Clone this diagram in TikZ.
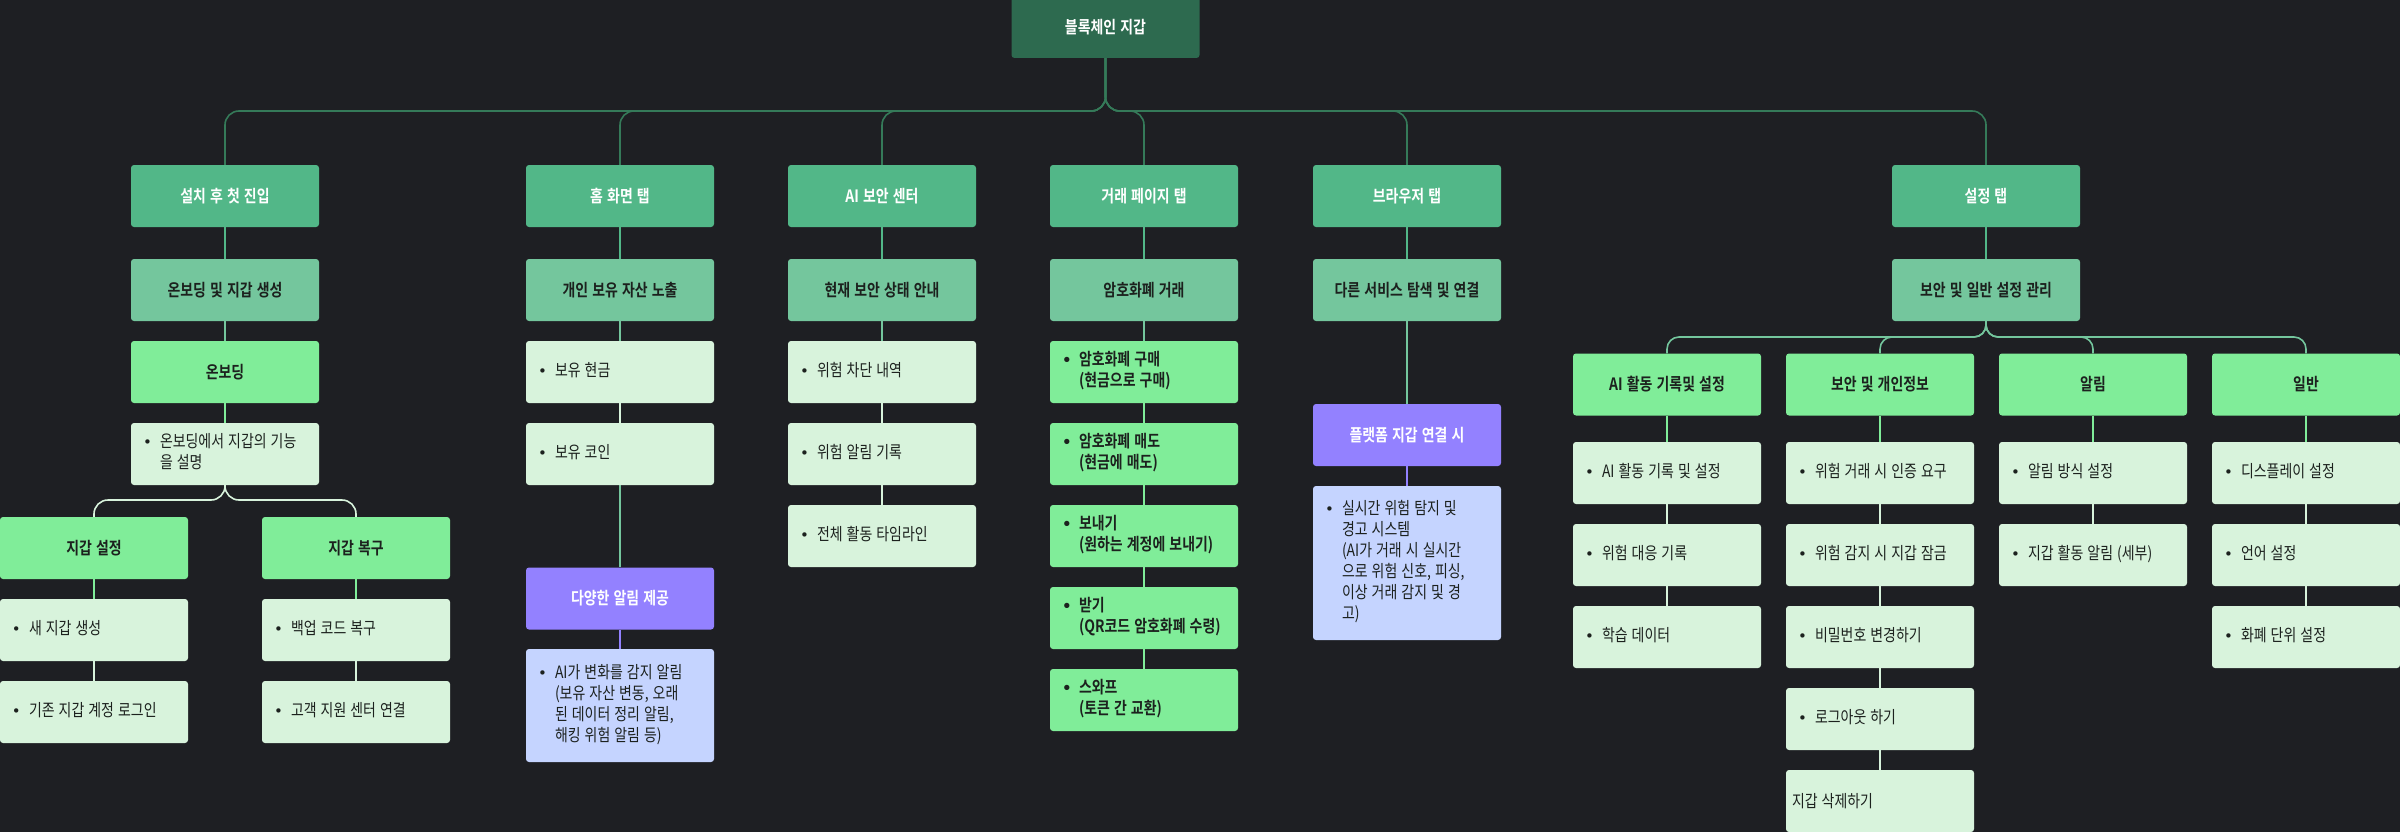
\documentclass[tikz,border=0pt]{standalone}
\usepackage{fontspec}
\setmainfont{Noto Sans CJK KR}[BoldFont={Noto Sans CJK KR Bold},WordSpace=1.3,FakeStretch=0.82]
\newfontfamily\bulletfont{DejaVu Sans}
\definecolor{cBg}{HTML}{1E1F23}
\definecolor{cRoot}{HTML}{2D6A4F}
\definecolor{cRootE}{HTML}{357A59}
\definecolor{cTab}{HTML}{52B788}
\definecolor{cLvl}{HTML}{74C69D}
\definecolor{cBrt}{HTML}{80ED99}
\definecolor{cLite}{HTML}{D8F3DC}
\definecolor{cPurp}{HTML}{9381FF}
\definecolor{cBlue}{HTML}{C5D4FF}
\definecolor{cTxt}{HTML}{1C211E}
\newcommand{\fsz}{\fontsize{17pt}{21pt}\selectfont}
\newcommand{\bl}[1]{\makebox[188pt][l]{\hspace{12pt}\makebox[17pt][l]{\bulletfont\fontsize{15pt}{21pt}\selectfont •}\begin{tabular}[t]{@{}l@{}}#1\end{tabular}}}
\newcommand{\nb}[1]{\makebox[188pt][l]{\hspace{6pt}#1}}
\pgfdeclarelayer{back}
\pgfdeclarelayer{edges}
\pgfsetlayers{back,edges,main}
\tikzset{
  box/.style={rectangle, rounded corners=3pt, minimum width=188pt, minimum height=62pt, inner sep=0pt, font=\fsz},
  rootbox/.style={box, fill=cRoot, text=white, font=\fsz\bfseries},
  tabbox/.style={box, fill=cTab, text=white, font=\fsz\bfseries},
  lvlbox/.style={box, fill=cLvl, text=cTxt, font=\fsz\bfseries},
  brtbox/.style={box, fill=cBrt, text=cTxt, font=\fsz\bfseries},
  litebox/.style={box, fill=cLite, text=cTxt},
  purpbox/.style={box, fill=cPurp, text=white, font=\fsz\bfseries},
  bluebox/.style={box, fill=cBlue, text=cTxt},
  edge/.style={line width=1.6pt},
}
\begin{document}
\begin{tikzpicture}[x=1pt,y=-1pt]
\useasboundingbox (0,0) rectangle (2400,832);
\begin{pgfonlayer}{back}
\fill[cBg] (0,0) rectangle (2400,832);
\end{pgfonlayer}

% root and tabs
\node[rootbox] (root) at (1105.5,27) {블록체인 지갑};
\node[tabbox] (t1) at (225,196) {설치 후 첫 진입};
\node[tabbox] (t2) at (620,196) {홈 화면 탭};
\node[tabbox] (t3) at (882,196) {AI 보안 센터};
\node[tabbox] (t4) at (1144,196) {거래 페이지 탭};
\node[tabbox] (t5) at (1407,196) {브라우저 탭};
\node[tabbox] (t6) at (1986,196) {설정 탭};

\node[lvlbox] (l1) at (225,290) {온보딩 및 지갑 생성};
\node[lvlbox] (l2) at (620,290) {개인 보유 자산 노출};
\node[lvlbox] (l3) at (882,290) {현재 보안 상태 안내};
\node[lvlbox] (l4) at (1144,290) {암호화폐 거래};
\node[lvlbox] (l5) at (1407,290) {다른 서비스 탐색 및 연결};
\node[lvlbox] (l6) at (1986,290) {보안 및 일반 설정 관리};

% column 1
\node[brtbox] (a1) at (225,372) {온보딩};
\node[litebox] (a2) at (225,454) {\bl{온보딩에서 지갑의 기능\\을 설명}};
\node[brtbox] (a3) at (94,548) {지갑 설정};
\node[brtbox] (a4) at (356,548) {지갑 복구};
\node[litebox] (a5) at (94,630) {\bl{새 지갑 생성}};
\node[litebox] (a6) at (94,712) {\bl{기존 지갑 계정 로그인}};
\node[litebox] (a7) at (356,630) {\bl{백업 코드 복구}};
\node[litebox] (a8) at (356,712) {\bl{고객 지원 센터 연결}};

% column 2
\node[litebox] (b1) at (620,372) {\bl{보유 현금}};
\node[litebox] (b2) at (620,454) {\bl{보유 코인}};
\node[purpbox] (b3) at (620,598.5) {다양한 알림 제공};
\node[bluebox, minimum height=113pt] (b4) at (620,705.5) {\bl{AI가 변화를 감지 알림\\(보유 자산 변동, 오래\\된 데이터 정리 알림,\\해킹 위험 알림 등)}};

% column 3
\node[litebox] (c1) at (882,372) {\bl{위험 차단 내역}};
\node[litebox] (c2) at (882,454) {\bl{위험 알림 기록}};
\node[litebox] (c3) at (882,536) {\bl{전체 활동 타임라인}};

% column 4
\node[brtbox] (d1) at (1144,372) {\bl{암호화폐 구매\\(현금으로 구매)}};
\node[brtbox] (d2) at (1144,454) {\bl{암호화폐 매도\\(현금에 매도)}};
\node[brtbox] (d3) at (1144,536) {\bl{보내기\\(원하는 계정에 보내기)}};
\node[brtbox] (d4) at (1144,618) {\bl{받기\\(QR코드 암호화폐 수령)}};
\node[brtbox] (d5) at (1144,700) {\bl{스와프\\(토큰 간 교환)}};

% column 5
\node[purpbox] (e1) at (1407,435) {플랫폼 지갑 연결 시};
\node[bluebox, minimum height=154pt] (e2) at (1407,563) {\bl{실시간 위험 탐지 및\\경고 시스템\\(AI가 거래 시 실시간\\으로 위험 신호, 피싱,\\이상 거래 감지 및 경\\고)}};

% column 6
\node[brtbox] (s1) at (1667,384.5) {AI 활동 기록및 설정};
\node[brtbox] (s2) at (1880,384.5) {보안 및 개인정보};
\node[brtbox] (s3) at (2093,384.5) {알림};
\node[brtbox] (s4) at (2306,384.5) {일반};

\node[litebox] (s1a) at (1667,473) {\bl{AI 활동 기록 및 설정}};
\node[litebox] (s1b) at (1667,555) {\bl{위험 대응 기록}};
\node[litebox] (s1c) at (1667,637) {\bl{학습 데이터}};

\node[litebox] (s2a) at (1880,473) {\bl{위험 거래 시 인증 요구}};
\node[litebox] (s2b) at (1880,555) {\bl{위험 감지 시 지갑 잠금}};
\node[litebox] (s2c) at (1880,637) {\bl{비밀번호 변경하기}};
\node[litebox] (s2d) at (1880,719) {\bl{로그아웃 하기}};
\node[litebox] (s2e) at (1880,801) {\nb{지갑 삭제하기}};

\node[litebox] (s3a) at (2093,473) {\bl{알림 방식 설정}};
\node[litebox] (s3b) at (2093,555) {\bl{지갑 활동 알림 (세부)}};

\node[litebox] (s4a) at (2306,473) {\bl{디스플레이 설정}};
\node[litebox] (s4b) at (2306,555) {\bl{언어 설정}};
\node[litebox] (s4c) at (2306,637) {\bl{화폐 단위 설정}};

\coordinate (rj) at (1105.5,111);
\coordinate (j1) at (225,500);
\coordinate (j6) at (1986,337);

\begin{pgfonlayer}{edges}
\foreach \t in {t1,t2,t3,t4,t5,t6}
  \draw[edge, cRootE, rounded corners=14pt] (root.south) -- (rj) -| (\t.north);
\foreach \t/\l in {t1/l1,t2/l2,t3/l3,t4/l4,t5/l5,t6/l6}
  \draw[edge, cTab] (\t.south) -- (\l.north);
% column 1
\draw[edge, cLvl] (l1.south) -- (a1.north);
\draw[edge, cBrt] (a1.south) -- (a2.north);
\draw[edge, cLite, rounded corners=14pt] (a2.south) -- (j1) -| (a3.north);
\draw[edge, cLite, rounded corners=14pt] (a2.south) -- (j1) -| (a4.north);
\draw[edge, cBrt] (a3.south) -- (a5.north);
\draw[edge, cBrt] (a4.south) -- (a7.north);
\draw[edge, cLite] (a5.south) -- (a6.north);
\draw[edge, cLite] (a7.south) -- (a8.north);
% column 2
\draw[edge, cLvl] (l2.south) -- (b3.north);
\draw[edge, cLvl] (l2.south) -- (b1.north);
\draw[edge, cLite] (b1.south) -- (b2.north);
\draw[edge, cPurp] (b3.south) -- (b4.north);
% column 3
\draw[edge, cLvl] (l3.south) -- (c1.north);
\draw[edge, cLite] (c1.south) -- (c2.north);
\draw[edge, cLite] (c2.south) -- (c3.north);
% column 4
\draw[edge, cLvl] (l4.south) -- (d1.north);
\foreach \a/\b in {d1/d2,d2/d3,d3/d4,d4/d5}
  \draw[edge, cBrt] (\a.south) -- (\b.north);
% column 5
\draw[edge, cLvl] (l5.south) -- (e1.north);
\draw[edge, cPurp] (e1.south) -- (e2.north);
% column 6
\foreach \s in {s1,s2,s3,s4}
  \draw[edge, cLvl, rounded corners=12pt] (l6.south) -- (j6) -| (\s.north);
\foreach \s in {s1,s2,s3,s4}
  \draw[edge, cBrt] (\s.south) -- (\s a.north);
\foreach \a/\b in {s1a/s1b,s1b/s1c,s2a/s2b,s2b/s2c,s2c/s2d,s2d/s2e,s3a/s3b,s4a/s4b,s4b/s4c}
  \draw[edge, cLite] (\a.south) -- (\b.north);
\end{pgfonlayer}
\end{tikzpicture}
\end{document}
